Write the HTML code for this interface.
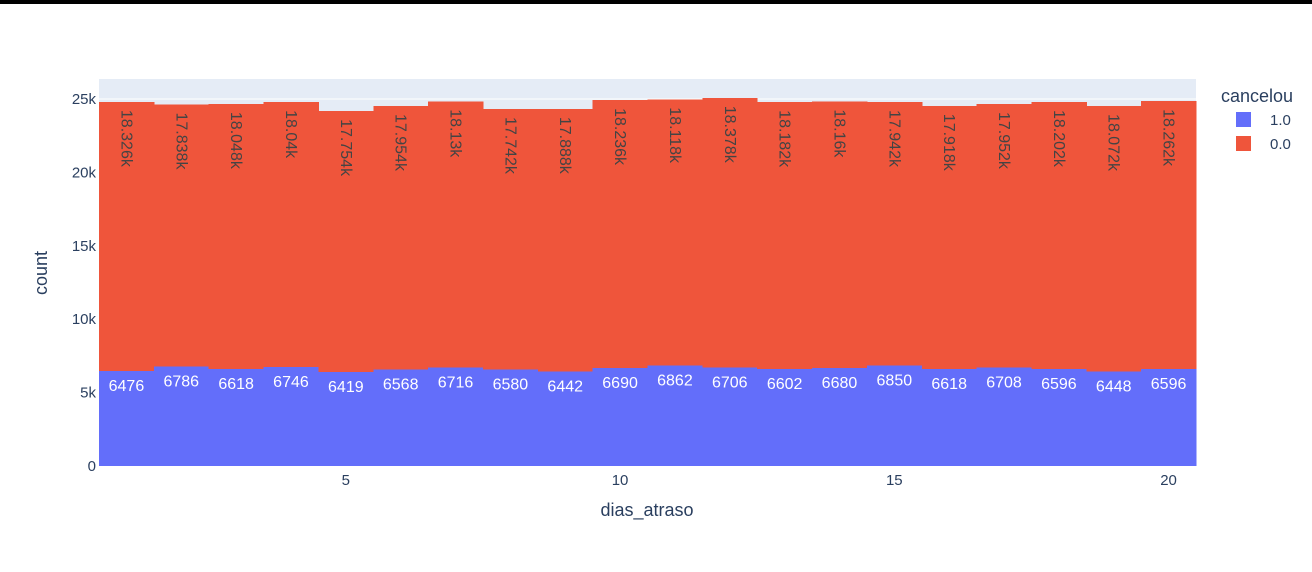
<!DOCTYPE html>
<html><head><meta charset="utf-8"><style>
body{margin:0;background:#fff;width:1312px;height:567px;overflow:hidden;font-family:"Liberation Sans",sans-serif}
</style></head><body>
<svg id="chart" width="1312" height="567" font-family="Liberation Sans, sans-serif">
<rect x="0" y="0" width="1312" height="4" fill="#000"/>
<rect x="99" y="79" width="1097" height="387" fill="#e5ecf6"/>
<g id="grid"></g>
<g id="bars" shape-rendering="crispEdges"></g>
<g id="labels"></g>
<g id="axes"></g>
<text x="647" y="516" font-size="18" fill="#2a3f5f" text-anchor="middle">dias_atraso</text>
<text transform="translate(47,273) rotate(-90)" font-size="18" fill="#2a3f5f" text-anchor="middle">count</text>
<g>
<text x="1221" y="102" font-size="18" fill="#2a3f5f">cancelou</text>
<g><rect x="1236" y="112" width="15" height="15" fill="#636efa"/><text x="1270" y="125" font-size="15" fill="#2a3f5f">1.0</text></g>
<g><rect x="1236" y="136" width="15" height="15" fill="#ef553b"/><text x="1270" y="149" font-size="15" fill="#2a3f5f">0.0</text></g>
</g>
</svg>
<script>
const days=[1,2,3,4,5,6,7,8,9,10,11,12,13,14,15,16,17,18,19,20];
const cancel1=[6476,6786,6618,6746,6419,6568,6716,6580,6442,6690,6862,6706,6602,6680,6850,6618,6708,6596,6448,6596];
const cancel0=[18326,17838,18048,18040,17754,17954,18130,17742,17888,18236,18118,18378,18182,18160,17942,17918,17952,18202,18072,18262];
const cancel0Labels=["18.326k","17.838k","18.048k","18.04k","17.754k","17.954k","18.13k","17.742k","17.888k","18.236k","18.118k","18.378k","18.182k","18.16k","17.942k","17.918k","17.952k","18.202k","18.072k","18.262k"];
const yTicks=[0,5000,10000,15000,20000,25000];
const yTickLabels=["0","5k","10k","15k","20k","25k"];
const xTicks=[5,10,15,20];
const NS="http://www.w3.org/2000/svg";
const X=v=>99+(v-0.5)*(1097/20);
const Y=v=>466-v*(367/25000);
function mk(tag,attrs,parent,txt){const e=document.createElementNS(NS,tag);for(const k in attrs)e.setAttribute(k,attrs[k]);if(txt!==undefined)e.textContent=txt;document.getElementById(parent).appendChild(e);return e;}
yTicks.forEach((t,i)=>{
  if(t>0){const g=mk('line',{x1:99,x2:1196,y1:Y(t),y2:Y(t),stroke:'#fff','stroke-width':1},'grid');
  
  }
  const l=mk('text',{x:96,y:Y(t)+5,'font-size':15,fill:'#2a3f5f','text-anchor':'end'},'axes',yTickLabels[i]);
  
  
});
xTicks.forEach(t=>{
  const l=mk('text',{x:X(t),y:485,'font-size':15,fill:'#2a3f5f','text-anchor':'middle'},'axes',String(t));
  
  
});
const w=1097/20;
days.forEach((d,i)=>{
  const x0=X(d-0.5);
  const b1=mk('rect',{x:x0,y:Y(cancel1[i]),width:w+0.5,height:Y(0)-Y(cancel1[i]),fill:'#636efa'},'bars');
  
  
  const top=cancel1[i]+cancel0[i];
  const b0=mk('rect',{x:x0,y:Y(top),width:w+0.5,height:Y(cancel1[i])-Y(top),fill:'#ef553b'},'bars');
  
  
  const t1=mk('text',{x:X(d),y:Y(cancel1[i])+20,'font-size':16,fill:'#fff','text-anchor':'middle'},'labels',String(cancel1[i]));
  
  
  const tx=X(d)-5, ty=Y(top)+8;
  const t0=mk('text',{x:tx,y:ty,'font-size':16,fill:'#444','text-anchor':'start',transform:`rotate(90 ${tx} ${ty})`},'labels',cancel0Labels[i]);
  
  
});
</script>
</body></html>
